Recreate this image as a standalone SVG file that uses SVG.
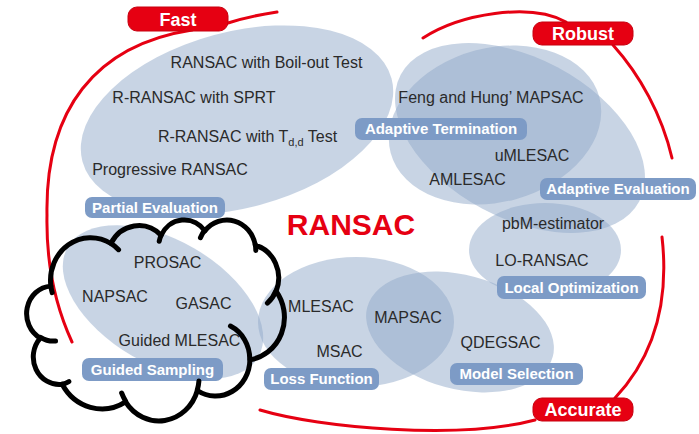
<svg xmlns="http://www.w3.org/2000/svg" width="699" height="434" viewBox="0 0 699 434">
<style>
.reg{fill:#91a9c9;fill-opacity:0.5}
.pill{fill:#7d9bc6}
.pt{font-family:"Liberation Sans",Arial,sans-serif;font-weight:bold;font-size:15px;fill:#fff;text-anchor:middle}
.t{font-family:"Liberation Sans",Arial,sans-serif;font-size:16px;fill:#2a2a2a;text-anchor:middle}
.red{fill:#e60012;stroke:#c8000f;stroke-width:1}
.rt{font-family:"Liberation Sans",Arial,sans-serif;font-weight:bold;font-size:18px;fill:#fff;text-anchor:middle}
.conn{fill:none;stroke:#e60012;stroke-width:3;stroke-linecap:round}
.cloud{fill:none;stroke:#000;stroke-width:5;stroke-linejoin:round;stroke-linecap:round}
</style>
<rect width="699" height="434" fill="#fff"/>
<g id="regions">
<ellipse id="r-partial" class="reg" cx="237" cy="120" rx="160" ry="88" transform="rotate(-15 237 120)"/>
<ellipse id="r-guided" class="reg" cx="163" cy="302" rx="110" ry="62" transform="rotate(30 163 302)"/>
<ellipse id="r-loss" class="reg" cx="356" cy="322" rx="98" ry="65"/>
<ellipse id="r-model" class="reg" cx="460" cy="332" rx="96" ry="57" transform="rotate(15 460 332)"/>
<ellipse id="r-local" class="reg" cx="545" cy="250" rx="76" ry="47"/>
<ellipse id="r-adeval" class="reg" cx="520" cy="138" rx="135" ry="80" transform="rotate(28 520 138)"/>
<ellipse id="r-adterm" class="reg" cx="495" cy="125" rx="108" ry="77" transform="rotate(-15 495 125)"/>
</g>
<g id="connectors">
<path class="conn" d="M192,30 C95,45 45,110 47,215 C46,265 55,305 72,342"/>
<path class="conn" d="M228,23 Q250,16 277,12"/>
<path class="conn" d="M423,38 C460,14 530,2 566,22"/>
<path class="conn" d="M613,45 C640,75 662,115 672,158"/>
<path class="conn" d="M662,237 C668,290 660,350 615,398"/>
<path class="conn" d="M260,410 C320,428 460,440 535,420"/>
</g>
<g id="fast"><rect class="red" x="128" y="7" width="100" height="24" rx="9"/><text class="rt" x="178" y="26">Fast</text></g>
<g id="robust"><rect class="red" x="533" y="22" width="100" height="23" rx="9"/><text class="rt" x="583" y="40">Robust</text></g>
<g id="accurate"><rect class="red" x="533" y="398" width="100" height="23" rx="9"/><text class="rt" x="583" y="416">Accurate</text></g>
<g id="ransac"><text x="351" y="235" font-family="'Liberation Sans',Arial,sans-serif" font-weight="bold" font-size="30" fill="#e60012" text-anchor="middle">RANSAC</text></g>
<g id="partial-evaluation">
<text class="t" x="266.5" y="68">RANSAC with Boil-out Test</text>
<text class="t" x="194" y="103">R-RANSAC with SPRT</text>
<text class="t" x="247.5" y="142">R-RANSAC with T<tspan font-size="11" dy="4">d,d</tspan><tspan dy="-4"> Test</tspan></text>
<text class="t" x="170" y="175">Progressive RANSAC</text>
<rect class="pill" x="85" y="197" width="140" height="21" rx="7"/>
<text class="pt" x="155" y="213">Partial Evaluation</text>
</g>
<g id="adaptive-termination">
<text class="t" x="491" y="103">Feng and Hung’ MAPSAC</text>
<rect class="pill" x="355" y="118" width="172" height="22" rx="7"/>
<text class="pt" x="441" y="134">Adaptive Termination</text>
</g>
<g id="adaptive-evaluation">
<text class="t" x="532" y="161">uMLESAC</text>
<text class="t" x="467.5" y="185">AMLESAC</text>
<rect class="pill" x="540" y="178" width="156" height="22" rx="7"/>
<text class="pt" x="618" y="194">Adaptive Evaluation</text>
</g>
<g id="local-optimization">
<text class="t" x="553" y="229">pbM-estimator</text>
<text class="t" x="542" y="266">LO-RANSAC</text>
<rect class="pill" x="497" y="276" width="149" height="23" rx="7"/>
<text class="pt" x="571.5" y="292.5">Local Optimization</text>
</g>
<g id="model-selection">
<text class="t" x="408" y="323">MAPSAC</text>
<text class="t" x="500.5" y="348">QDEGSAC</text>
<rect class="pill" x="450" y="363" width="133" height="22" rx="7"/>
<text class="pt" x="516.5" y="379">Model Selection</text>
</g>
<g id="loss-function">
<text class="t" x="321" y="312">MLESAC</text>
<text class="t" x="339.5" y="357">MSAC</text>
<rect class="pill" x="264" y="368" width="115" height="22" rx="7"/>
<text class="pt" x="321.5" y="384">Loss Function</text>
</g>
<g id="guided-sampling">
<text class="t" x="167.5" y="268">PROSAC</text>
<text class="t" x="115" y="302">NAPSAC</text>
<text class="t" x="203.5" y="309">GASAC</text>
<text class="t" x="179.5" y="346">Guided MLESAC</text>
<rect class="pill" x="82" y="358" width="141" height="23" rx="7"/>
<text class="pt" x="152.5" y="374.5">Guided Sampling</text>
</g>
<g id="cloud" transform="translate(27.7,219.3) scale(0.00594,0.00465)">
<path class="cloud" vector-effect="non-scaling-stroke" d="M3900,14370 A6753,9190 0 0 1 14006.6,5203.5 A5333,7267 0 0 1 22457.6,3434.1 A4365,5945 0 0 1 29834.4,2483.7 A4857,6595 0 0 1 38319,5579.9 A5333,7273 0 0 1 41819.3,15463.8 A6775,9220 0 0 1 37405.4,30207.2 A5785,7867 0 0 1 28557.9,36818.2 A6752,9215 0 0 1 16481.7,39266.8 A7720,10543 0 0 1 5806.6,35471.8 A4360,5918 0 0 1 2116.4,25548.6 A4345,5945 0 0 1 3900,14370 Z"/>
<path class="cloud" vector-effect="non-scaling-stroke" d="M4693,26177 A4345,5945 0 0 1 2159.2,25379.5 M6928,34899 A4360,5918 0 0 1 5806.6,35471.8 M16478,39090 A6752,9215 0 0 1 15811.2,37352.1 M28827,34751 A6752,9215 0 0 1 28560.2,36660.8 M34129,22954 A5785,7867 0 0 1 37380.7,30089.8 M41798,15354 A5333,7273 0 0 1 40349.4,18030.7 M38324,5426 A4857,6595 0 0 1 38400.4,6689.5 M29078,3952 A4857,6595 0 0 1 29820.2,2339.7 M22141,4720 A4365,5945 0 0 1 22500.5,3329.1 M14000,5192 A6753,9190 0 0 1 15300.1,6541.4 M4127,15789 A6753,9190 0 0 1 3900,14369.9"/>
</g>
</svg>
